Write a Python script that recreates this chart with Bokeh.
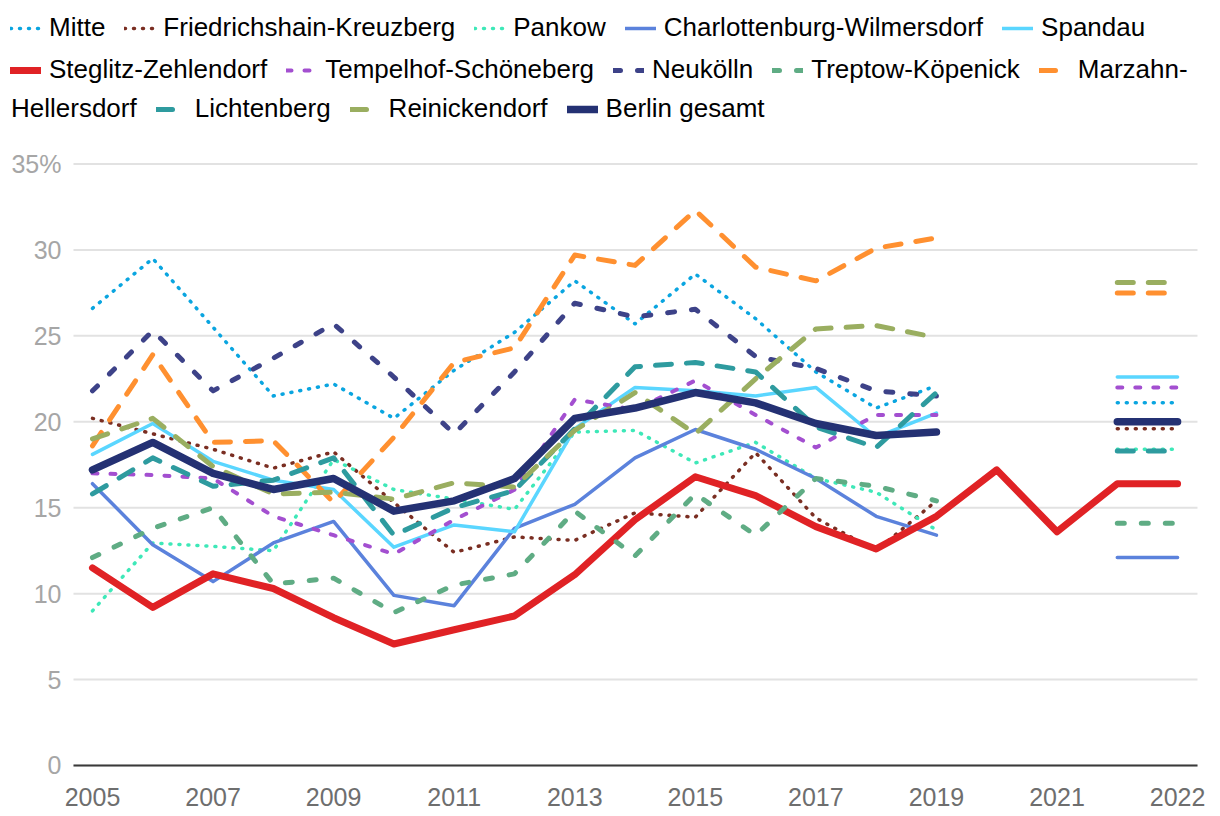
from bokeh.plotting import figure
from bokeh.models import Range1d, FixedTicker, ColumnDataSource, Legend, LegendItem
from bokeh.embed import file_html
from bokeh.resources import INLINE

nan = float("nan")

# ---------------- data ----------------
years = list(range(2005, 2023))
last_category = 2023          # trailing axis category, labelled "2022"
x_ticks = [2005, 2007, 2009, 2011, 2013, 2015, 2017, 2019, 2021, 2023]
x_tick_labels = {2023: "2022"}

series_names = [
    "Mitte", "Friedrichshain-Kreuzberg", "Pankow", "Charlottenburg-Wilmersdorf",
    "Spandau", "Steglitz-Zehlendorf", "Tempelhof-Schöneberg", "Neukölln",
    "Treptow-Köpenick", "Marzahn-Hellersdorf", "Lichtenberg", "Reinickendorf",
    "Berlin gesamt",
]

mitte = [26.6, 29.5, 25.5, 21.5, 22.2, 20.2, 23.0, 25.2, 28.2, 25.7, 28.6, 26.0, 22.9, 20.8, 22.1, nan, nan, 21.1]
friedrichshain_kreuzberg = [20.2, 19.3, 18.4, 17.3, 18.25, 15.3, 12.4, 13.3, 13.1, 14.7, 14.45, 18.2, 14.4, 12.5, 15.4, nan, nan, 19.6]
pankow = [9.0, 12.95, 12.75, 12.5, 17.8, 16.06, 15.5, 14.9, 19.4, 19.5, 17.6, 18.8, 16.7, 15.9, 13.7, nan, nan, 18.4]
charlottenburg_wilmersdorf = [16.4, 12.85, 10.7, 12.95, 14.2, 9.9, 9.3, 13.8, 15.2, 17.9, 19.55, 18.4, 16.7, 14.5, 13.4, nan, nan, 12.1]
spandau = [18.1, 19.9, 17.7, 16.6, 16.06, 12.7, 14.0, 13.6, 19.6, 22.0, 21.8, 21.5, 22.0, 19.1, 20.5, nan, nan, 22.6]
steglitz_zehlendorf = [11.5, 9.2, 11.15, 10.3, 8.6, 7.07, 7.9, 8.7, 11.1, 14.3, 16.8, 15.7, 13.9, 12.6, 14.5, 17.2, 13.6, 16.4]
tempelhof_schoeneberg = [17.0, 16.9, 16.7, 14.5, 13.4, 12.3, 14.3, 16.05, 21.3, 20.7, 22.4, 20.4, 18.5, 20.4, 20.4, nan, nan, 22.0]
neukoelln = [21.8, 25.3, 21.8, 23.7, 25.7, 22.6, 19.3, 22.9, 26.9, 26.1, 26.55, 23.8, 23.1, 21.8, 21.5, nan, nan, nan]
treptow_koepenick = [12.1, 13.8, 15.0, 10.56, 10.9, 8.9, 10.5, 11.15, 14.8, 12.2, 15.8, 13.4, 16.7, 16.25, 15.4, nan, nan, 14.1]
marzahn_hellersdorf = [18.6, 23.9, 18.8, 18.9, 15.3, 19.1, 23.45, 24.3, 29.7, 29.1, 32.3, 29.0, 28.2, 30.1, 30.7, nan, nan, 27.5]
lichtenberg = [15.8, 17.9, 16.25, 16.6, 17.9, 13.4, 15.0, 16.0, 19.6, 23.2, 23.45, 22.9, 19.7, 18.5, 21.7, nan, nan, 18.3]
reinickendorf = [19.0, 20.2, 17.4, 15.8, 15.9, 15.5, 16.45, 16.2, 19.5, 21.7, 19.3, 22.5, 25.4, 25.6, 24.9, nan, nan, 28.1]
berlin_gesamt = [17.2, 18.8, 17.0, 16.06, 16.7, 14.8, 15.4, 16.7, 20.2, 20.8, 21.7, 21.1, 19.9, 19.2, 19.4, nan, nan, 20.0]

y_ticks = [0, 5, 10, 15, 20, 25, 30, 35]
y_tick_labels = {35: "35%"}

all_series = [mitte, friedrichshain_kreuzberg, pankow, charlottenburg_wilmersdorf,
              spandau, steglitz_zehlendorf, tempelhof_schoeneberg, neukoelln,
              treptow_koepenick, marzahn_hellersdorf, lichtenberg, reinickendorf,
              berlin_gesamt]

# legend rows (series indices); Marzahn-Hellersdorf wraps across rows 2 and 3
legend_rows = [[0, 1, 2, 3, 4], [5, 6, 7, 8, 9], [None, 10, 11, 12]]
wrapped_labels = {9: "Marzahn-", None: "Hellersdorf"}

# ---------------- styles ----------------
styles = [
    ("#0aa5e0", 3.5, "1 8"),
    ("#7a2e22", 3.5, "1 8"),
    ("#3ee8b8", 3.5, "1 8"),
    ("#5b82dc", 3.5, "solid"),
    ("#5ad6ff", 3.5, "solid"),
    ("#e02225", 7, "solid"),
    ("#a34fd0", 4, "5 13"),
    ("#3d4288", 5, "7 17"),
    ("#5fac84", 5, "7 17"),
    ("#ff9030", 5, "16 15"),
    ("#2e9b9f", 5, "16 15"),
    ("#9aae60", 5, "16 15"),
    ("#243173", 7.5, "solid"),
]

FONT = "Liberation Sans"

# data area spans PLOT_X0..PLOT_X1 and 0..35; the frame is extended on every side
# so that axes labels and the legend rows can live inside it
PLOT_X0, PLOT_X1 = 2004.685, 2023.33
FRAME_X0, FRAME_X1 = 2003.474, 2023.712
FRAME_Y0, FRAME_Y1 = -2.968, 44.513

p = figure(width=1220, height=816,
           x_range=Range1d(FRAME_X0, FRAME_X1), y_range=Range1d(FRAME_Y0, FRAME_Y1),
           output_backend="svg", toolbar_location=None,
           min_border_left=0, min_border_right=0,
           min_border_top=0, min_border_bottom=0)
p.outline_line_color = None
p.background_fill_color = "white"
p.border_fill_color = "white"

# horizontal grid lines over the data area only
p.xgrid.visible = False
p.ygrid.visible = False
grid_src = ColumnDataSource(dict(x0=[PLOT_X0] * len(y_ticks), x1=[PLOT_X1] * len(y_ticks),
                                 y=y_ticks))
p.segment(x0="x0", x1="x1", y0="y", y1="y", source=grid_src,
          line_color="#e2e2e2", line_width=2)

xs = years + [last_category]
renderers = []
for vals, (color, width, dash) in zip(all_series, styles):
    ys = vals + [vals[-1]]
    src = ColumnDataSource(dict(x=xs, y=ys))
    r = p.line("x", "y", source=src, line_color=color, line_width=width,
               line_dash=dash, line_cap="round", line_join="round")
    renderers.append(r)

# invisible stand-in so the wrapped legend text can sit on its own
spacer = p.line(x=[], y=[], line_alpha=0)

p.yaxis.fixed_location = PLOT_X0
p.yaxis.bounds = (0, 35)
p.yaxis.ticker = FixedTicker(ticks=y_ticks)
p.yaxis.major_label_overrides = y_tick_labels
p.yaxis.axis_line_color = None
p.yaxis.major_tick_line_color = None
p.yaxis.minor_tick_line_color = None
p.yaxis.major_label_text_color = "#a6a6a6"
p.yaxis.major_label_text_font = FONT
p.yaxis.major_label_text_font_size = "25px"
p.yaxis.major_label_standoff = 6

p.xaxis.fixed_location = 0
p.xaxis.bounds = (PLOT_X0, PLOT_X1)
p.xaxis.ticker = FixedTicker(ticks=x_ticks)
p.xaxis.major_label_overrides = x_tick_labels
p.xaxis.axis_line_color = "#3a3a3a"
p.xaxis.axis_line_width = 2
p.xaxis.major_tick_line_color = None
p.xaxis.minor_tick_line_color = None
p.xaxis.major_label_text_color = "#6e6e6e"
p.xaxis.major_label_text_font = FONT
p.xaxis.major_label_text_font_size = "25px"
p.xaxis.major_label_standoff = 17

# ---------------- legend: three horizontal rows above the data area ----------------
row_locations = [(10, 773), (10, 731), (-28, 692)]
for row, loc in zip(legend_rows, row_locations):
    items = []
    for idx in row:
        label = wrapped_labels.get(idx, series_names[idx] if idx is not None else "")
        rend = spacer if idx is None else renderers[idx]
        items.append(LegendItem(label=label, renderers=[rend]))
    leg = Legend(items=items, orientation="horizontal", location=loc,
                 glyph_width=31, glyph_height=30, label_height=30,
                 label_standoff=8, spacing=19, padding=0, margin=0,
                 border_line_color=None, background_fill_alpha=0,
                 label_text_font=FONT, label_text_font_size="26px",
                 label_text_color="#000000", label_text_baseline="middle")
    p.add_layout(leg)

open("out.html", "w").write(file_html(p, INLINE))
